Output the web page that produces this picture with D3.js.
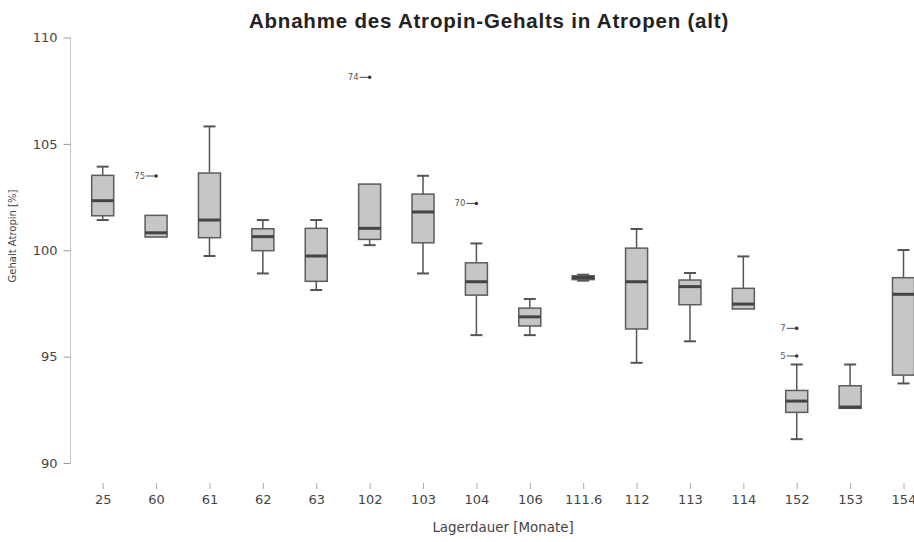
<!DOCTYPE html>
<html>
<head>
<meta charset="utf-8">
<script src="https://cdn.jsdelivr.net/npm/d3@7"></script>
<style>
  body { margin: 0; background: #fff; }
  svg { display: block; }
</style>
</head>
<body>
<div id="chart"></div>
<script>
const WIDTH = 914;
const HEIGHT = 542;

// storage duration (months) categories and box statistics, Atropin content in %
const categories = ["25", "60", "61", "62", "63", "102", "103", "104", "106", "111.6", "112", "113", "114", "152", "153", "154"];
const whiskerHigh = [103.93, 101.64, 105.82, 101.42, 101.42, 103.11, 103.5, 100.32, 97.71, 98.85, 101.0, 98.93, 99.71, 94.63, 94.63, 100.01];
const q3 = [103.52, 101.64, 103.63, 101.01, 101.03, 103.11, 102.64, 99.41, 97.28, 98.8, 100.1, 98.6, 98.21, 93.41, 93.63, 98.71];
const median = [102.33, 100.82, 101.42, 100.64, 99.73, 101.03, 101.8, 98.52, 96.87, 98.72, 98.52, 98.29, 97.47, 92.91, 92.63, 97.93];
const q1 = [101.62, 100.62, 100.59, 99.98, 98.54, 100.51, 100.35, 97.89, 96.44, 98.62, 96.3, 97.44, 97.24, 92.38, 92.57, 94.13];
const whiskerLow = [101.42, 100.62, 99.73, 98.91, 98.13, 100.24, 98.91, 96.01, 96.01, 98.57, 94.71, 95.72, 97.24, 91.12, 92.57, 93.74];

// outliers: category, value, case label
const outlierCat = ["60", "102", "104", "152", "152"];
const outlierVal = [103.49, 108.13, 102.2, 96.33, 95.03];
const outlierLabel = ["75", "74", "70", "7", "5"];

const yTicks = [90, 95, 100, 105, 110];

const boxes = categories.map((c, i) => ({
  cat: c, lo: whiskerLow[i], q1: q1[i], med: median[i], q3: q3[i], hi: whiskerHigh[i]
}));
const outliers = outlierCat.map((c, i) => ({cat: c, v: outlierVal[i], label: outlierLabel[i]}));

const x = d3.scalePoint()
    .domain(categories)
    .range([102.7, 903.5]);

const y = d3.scaleLinear()
    .domain([90, 110])
    .range([463, 37.5]);

const svg = d3.select("#chart").append("svg")
    .attr("width", WIDTH)
    .attr("height", HEIGHT)
    .style("font-family", "'DejaVu Sans', sans-serif");

// title
svg.append("text")
    .attr("x", 489)
    .attr("y", 28)
    .attr("text-anchor", "middle")
    .style("font-family", "'Liberation Sans', Arial, sans-serif")
    .style("font-weight", "bold")
    .style("font-size", "20.5px")
    .style("letter-spacing", "0.8px")
    .attr("fill", "#222")
    .text("Abnahme des Atropin-Gehalts in Atropen (alt)");

// y axis
const yAxis = svg.append("g")
    .attr("transform", "translate(70.5,0)")
    .call(d3.axisLeft(y).tickValues(yTicks).tickSize(7).tickPadding(6));
yAxis.select(".domain").attr("stroke", "#c8c8c8").attr("d", `M0,${y(90)}V${y(110)}`);
yAxis.selectAll(".tick line").attr("stroke", "#999");
yAxis.selectAll(".tick text")
    .attr("fill", "#444")
    .style("font-size", "13px")
    .style("font-family", "'DejaVu Sans', sans-serif");

// x axis (ticks only)
const xAxis = svg.append("g")
    .attr("transform", "translate(0,483)")
    .call(d3.axisBottom(x).tickSize(6).tickPadding(6));
xAxis.select(".domain").remove();
xAxis.selectAll(".tick line").attr("stroke", "#aaa");
xAxis.selectAll(".tick text")
    .attr("fill", "#444")
    .style("font-size", "13px")
    .style("font-family", "'DejaVu Sans', sans-serif");

// axis titles
svg.append("text")
    .attr("x", 503)
    .attr("y", 532)
    .attr("text-anchor", "middle")
    .attr("fill", "#444")
    .style("font-size", "13.4px")
    .text("Lagerdauer [Monate]");

svg.append("text")
    .attr("transform", "translate(16,236) rotate(-90)")
    .attr("text-anchor", "middle")
    .attr("fill", "#444")
    .style("font-size", "10px")
    .text("Gehalt Atropin [%]");

// boxes
const boxW = 22;
const capW = 12;
const g = svg.append("g");
const bx = g.selectAll("g.box").data(boxes).join("g").attr("class", "box");

// whiskers
bx.append("line")
    .attr("x1", d => x(d.cat)).attr("x2", d => x(d.cat))
    .attr("y1", d => y(d.hi)).attr("y2", d => y(d.q3))
    .attr("stroke", "#555").attr("stroke-width", 1.5);
bx.append("line")
    .attr("x1", d => x(d.cat)).attr("x2", d => x(d.cat))
    .attr("y1", d => y(d.q1)).attr("y2", d => y(d.lo))
    .attr("stroke", "#555").attr("stroke-width", 1.5);
bx.filter(d => d.hi > d.q3).append("line")
    .attr("x1", d => x(d.cat) - capW / 2).attr("x2", d => x(d.cat) + capW / 2)
    .attr("y1", d => y(d.hi)).attr("y2", d => y(d.hi))
    .attr("stroke", "#555").attr("stroke-width", 2);
bx.filter(d => d.lo < d.q1).append("line")
    .attr("x1", d => x(d.cat) - capW / 2).attr("x2", d => x(d.cat) + capW / 2)
    .attr("y1", d => y(d.lo)).attr("y2", d => y(d.lo))
    .attr("stroke", "#555").attr("stroke-width", 2);

// box
bx.append("rect")
    .attr("x", d => x(d.cat) - boxW / 2)
    .attr("y", d => y(d.q3))
    .attr("width", boxW)
    .attr("height", d => y(d.q1) - y(d.q3))
    .attr("fill", "#c6c6c6")
    .attr("stroke", "#5c5c5c")
    .attr("stroke-width", 1.5);

// median
bx.append("line")
    .attr("x1", d => x(d.cat) - boxW / 2).attr("x2", d => x(d.cat) + boxW / 2)
    .attr("y1", d => y(d.med)).attr("y2", d => y(d.med))
    .attr("stroke", "#444").attr("stroke-width", 3);

// outliers
const og = svg.append("g").selectAll("g").data(outliers).join("g");
og.append("circle")
    .attr("cx", d => x(d.cat)).attr("cy", d => y(d.v))
    .attr("r", 1.8).attr("fill", "#333");
og.append("line")
    .attr("x1", d => x(d.cat) - 10).attr("x2", d => x(d.cat))
    .attr("y1", d => y(d.v)).attr("y2", d => y(d.v))
    .attr("stroke", "#444").attr("stroke-width", 1);
og.append("text")
    .attr("x", d => x(d.cat) - 11)
    .attr("y", d => y(d.v) + 3)
    .attr("text-anchor", "end")
    .attr("fill", "#555")
    .style("font-size", "8.5px")
    .text(d => d.label);
</script>
</body>
</html>
